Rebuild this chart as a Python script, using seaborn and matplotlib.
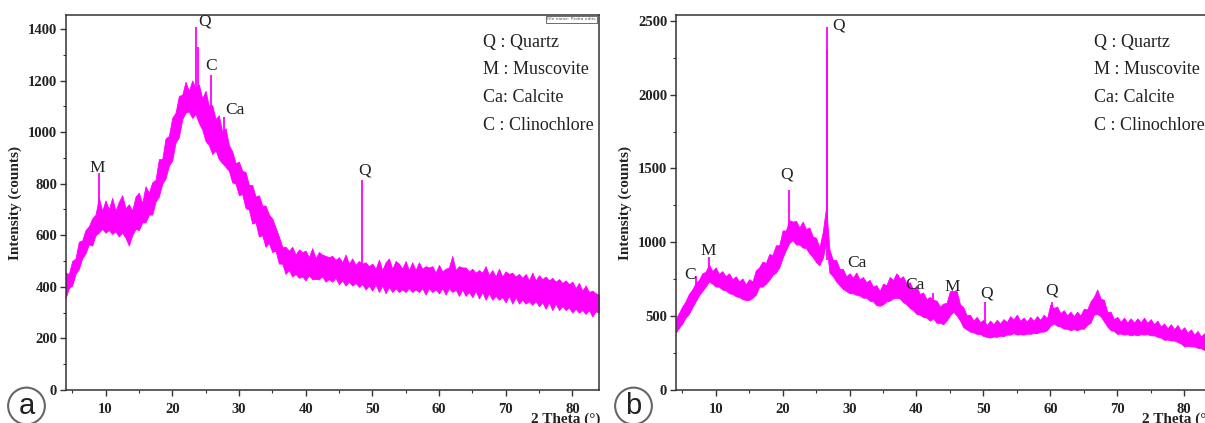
import matplotlib
matplotlib.use("Agg")
import matplotlib.pyplot as plt
import numpy as np
import pandas as pd
import seaborn as sns

# 2-theta grid (0.5 deg steps, 4..84)
theta = np.arange(4.0, 84.01, 0.5)

# panel (a): lower / upper edge of the noisy trace
a_low = [
    355, 395, 405, 450, 470, 510, 530, 565, 560, 600,
    610, 625, 610, 620, 605, 615, 595, 610, 590, 560,
    600, 625, 620, 650, 650, 680, 680, 730, 750, 800,
    820, 870, 890, 960, 980, 1050, 1075, 1080, 1055, 1070,
    1035, 1010, 965, 950, 915, 930, 895, 880, 865, 850,
    805, 800, 755, 760, 705, 700, 645, 650, 595, 600,
    555, 570, 535, 540, 490, 490, 450, 465, 440, 450,
    435, 440, 425, 445, 430, 430, 430, 440, 420, 430,
    420, 435, 410, 425, 405, 420, 405, 415, 400, 410,
    390, 405, 385, 410, 380, 405, 375, 400, 380, 395,
    380, 390, 380, 395, 380, 390, 380, 395, 370, 395,
    380, 390, 375, 395, 370, 395, 380, 390, 365, 390,
    365, 380, 360, 385, 355, 380, 350, 375, 350, 365,
    350, 360, 340, 365, 335, 360, 335, 350, 335, 345,
    330, 345, 325, 340, 315, 340, 310, 335, 310, 325,
    310, 320, 300, 315, 300, 310, 295, 310, 285, 305,
    300,
]
a_high = [
    455, 450, 500, 510, 575, 580, 620, 635, 665, 680,
    745, 695, 735, 700, 745, 695, 730, 755, 705, 720,
    695, 750, 765, 725, 790, 765, 805, 815, 895, 895,
    975, 985, 1055, 1075, 1140, 1145, 1195, 1160, 1200, 1170,
    1185, 1130, 1160, 1100, 1105, 1050, 1065, 1000, 1015, 950,
    925, 880, 885, 850, 845, 795, 795, 750, 755, 715,
    715, 680, 665, 630, 595, 555, 555, 540, 555, 525,
    545, 535, 540, 515, 550, 510, 535, 525, 520, 515,
    520, 505, 515, 495, 525, 490, 510, 485, 500, 490,
    495, 480, 490, 470, 505, 465, 495, 510, 470, 500,
    490, 470, 500, 465, 495, 465, 495, 470, 480, 475,
    480, 455, 485, 460, 470, 475, 520, 465, 480, 475,
    475, 460, 470, 455, 465, 455, 480, 445, 465, 440,
    470, 440, 460, 450, 455, 440, 450, 435, 450, 425,
    455, 425, 445, 430, 440, 425, 435, 420, 430, 415,
    425, 410, 420, 395, 415, 385, 405, 380, 385, 375,
    370,
]
a_peak_pos = [9.0, 23.6, 23.8, 25.8, 27.8, 48.5]
a_peak_top = [840, 1408, 1330, 1221, 1060, 814]
a_peak_base = [650, 1090, 1080, 1000, 900, 430]
a_labels = ["M", "Q", "C", "Ca", "Q"]
a_label_x = [8.7, 24.9, 25.8, 29.4, 48.8]
a_label_y = [860, 1427, 1256, 1086, 853]

# panel (b)
b_low = [
    385, 420, 450, 490, 515, 560, 600, 640, 670, 700,
    735, 720, 700, 700, 680, 675, 655, 650, 635, 630,
    615, 610, 610, 625, 645, 700, 700, 720, 745, 780,
    795, 830, 895, 950, 995, 1015, 985, 985, 965, 960,
    925, 900, 865, 845, 895, 1000, 795, 770, 735, 710,
    685, 670, 655, 655, 645, 640, 625, 625, 605, 600,
    575, 570, 580, 600, 605, 620, 625, 620, 595, 580,
    555, 540, 515, 510, 495, 490, 470, 485, 455, 455,
    445, 470, 505, 530, 505, 470, 425, 410, 395, 390,
    380, 380, 365, 360, 355, 362, 360, 368, 365, 375,
    375, 385, 375, 378, 375, 382, 380, 386, 385, 395,
    395, 405, 435, 450, 435, 430, 415, 415, 405, 412,
    405, 415, 415, 440, 455, 510, 515, 500, 465, 430,
    405, 400, 380, 382, 375, 378, 370, 376, 370, 378,
    375, 378, 370, 370, 360, 355, 340, 342, 335, 335,
    325, 315, 295, 300, 295, 295, 285, 283, 270, 270,
    260,
]
b_high = [
    480, 520, 565, 600, 650, 680, 725, 745, 790, 800,
    850, 805, 830, 785, 805, 770, 790, 750, 770, 735,
    755, 715, 750, 735, 810, 830, 870, 860, 920, 915,
    980, 980, 1080, 1080, 1150, 1140, 1145, 1100, 1140, 1090,
    1100, 1040, 1030, 965, 1070, 1240, 950, 880, 880, 820,
    820, 770, 790, 760, 795, 750, 765, 730, 745, 700,
    710, 670, 720, 710, 765, 745, 790, 755, 770, 720,
    730, 680, 700, 650, 660, 615, 630, 610, 605, 565,
    585, 590, 670, 670, 670, 580, 560, 505, 510, 470,
    495, 460, 475, 440, 470, 445, 475, 450, 480, 460,
    500, 478, 510, 468, 490, 463, 495, 468, 500, 475,
    510, 485, 580, 555, 565, 520, 540, 505, 530, 500,
    530, 505, 550, 545, 600, 630, 680, 620, 610, 530,
    530, 480, 495, 462, 490, 458, 485, 456, 485, 458,
    490, 455, 480, 445, 470, 430, 450, 418, 445, 412,
    440, 402, 425, 388, 410, 375, 400, 362, 385, 350,
    360,
]
b_peak_pos = [7.0, 9.0, 20.9, 26.6, 26.7, 37.3, 42.5, 50.3, 60.2]
b_peak_top = [775, 902, 1354, 2300, 2459, 780, 654, 598, 598]
b_peak_base = [640, 760, 1010, 1000, 880, 640, 490, 370, 450]
b_labels = ["C", "M", "Q", "Q", "Ca", "Ca", "M", "Q", "Q"]
b_label_x = [6.2, 8.9, 20.6, 28.3, 31.1, 39.7, 45.3, 50.5, 60.2]
b_label_y = [777, 939, 1459, 2466, 858, 709, 696, 655, 676]

legend_lines = ["Q : Quartz", "M : Muscovite", "Ca: Calcite", "C : Clinochlore"]

PINK = "#FF00FF"
INK = "#222222"

sns.set_theme(style="ticks")
plt.rcParams["font.family"] = ["Liberation Serif", "DejaVu Serif"]
plt.rcParams["axes.edgecolor"] = "#333333"
plt.rcParams["axes.linewidth"] = 1.1


def draw_panel(ax, low, high, peak_pos, peak_top, peak_base, labels, lx, ly,
               ymax, ystep, yminor, name_box=False):
    df = pd.DataFrame({
        "theta": np.concatenate([theta, theta]),
        "counts": np.concatenate([low, high]),
    })
    sns.lineplot(data=df, x="theta", y="counts", estimator="mean",
                 errorbar=("pi", 100), color=PINK, lw=0.6,
                 err_kws={"alpha": 1, "linewidth": 0.6, "edgecolor": PINK}, ax=ax)
    ax.vlines(peak_pos, peak_base, peak_top, color=PINK, lw=1.3)

    for t, x, y in zip(labels, lx, ly):
        ax.text(x, y, t, fontsize=12.5, color=INK, ha="center", va="center")

    for i, t in enumerate(legend_lines):
        ax.text(0.782, 0.928 - i * 0.0745, t, transform=ax.transAxes,
                fontsize=13, color=INK, ha="left", va="center")

    ax.set_xlim(4, 84)
    ax.set_ylim(0, ymax)
    ax.set_xticks(np.arange(10, 81, 10))
    ax.set_xticks(np.arange(5, 84, 5), minor=True)
    ax.set_yticks(np.arange(0, ymax, ystep))
    ax.set_yticks(np.arange(0, ymax, yminor), minor=True)
    ax.tick_params(axis="both", which="major", direction="out", length=4,
                   width=1, colors="#333333", labelsize=10.5, labelcolor=INK)
    ax.tick_params(axis="both", which="minor", direction="out", length=2.5,
                   width=0.8, colors="#333333")
    ax.tick_params(axis="x", pad=5)
    ax.tick_params(axis="y", pad=2)
    for lab in ax.get_xticklabels() + ax.get_yticklabels():
        lab.set_fontweight("bold")
    ax.set_xlabel("")
    ax.set_ylabel("Intensity (counts)", fontsize=11, fontweight="bold",
                  color=INK, labelpad=4)
    ax.text(0.872, -0.088, "2 Theta (\u00b0)", transform=ax.transAxes,
            fontsize=11, fontweight="bold", color=INK, ha="left", va="baseline")
    for side in ["top", "right", "left", "bottom"]:
        ax.spines[side].set_visible(True)

    if name_box:
        ax.text(0.994, 0.988, "File name: Pedra edits", transform=ax.transAxes,
                fontsize=3.2, family="DejaVu Sans", color="#555555",
                ha="right", va="center",
                bbox=dict(boxstyle="square,pad=0.3", fc="white", ec="#555555", lw=0.6))


fig = plt.figure(figsize=(12.05, 4.23), dpi=100)
ax_a = fig.add_axes([65.5 / 1205, 33 / 423, 533.5 / 1205, 375 / 423])
ax_b = fig.add_axes([675.5 / 1205, 33 / 423, 535.5 / 1205, 375 / 423])

draw_panel(ax_a, a_low, a_high, a_peak_pos, a_peak_top, a_peak_base,
           a_labels, a_label_x, a_label_y, 1454, 200, 100, name_box=True)
draw_panel(ax_b, b_low, b_high, b_peak_pos, b_peak_top, b_peak_base,
           b_labels, b_label_x, b_label_y, 2539, 500, 250)

# circled panel letters
for px, letter in [(26.5, "a"), (633.5, "b")]:
    fig.text(px / 1205, 1 - 406 / 423, letter, fontsize=21, family="Liberation Sans",
             color=INK, ha="center", va="center",
             bbox=dict(boxstyle="circle,pad=0.15", fc="white", ec="#666666", lw=1.5))

fig.savefig("out.png", dpi=100)
